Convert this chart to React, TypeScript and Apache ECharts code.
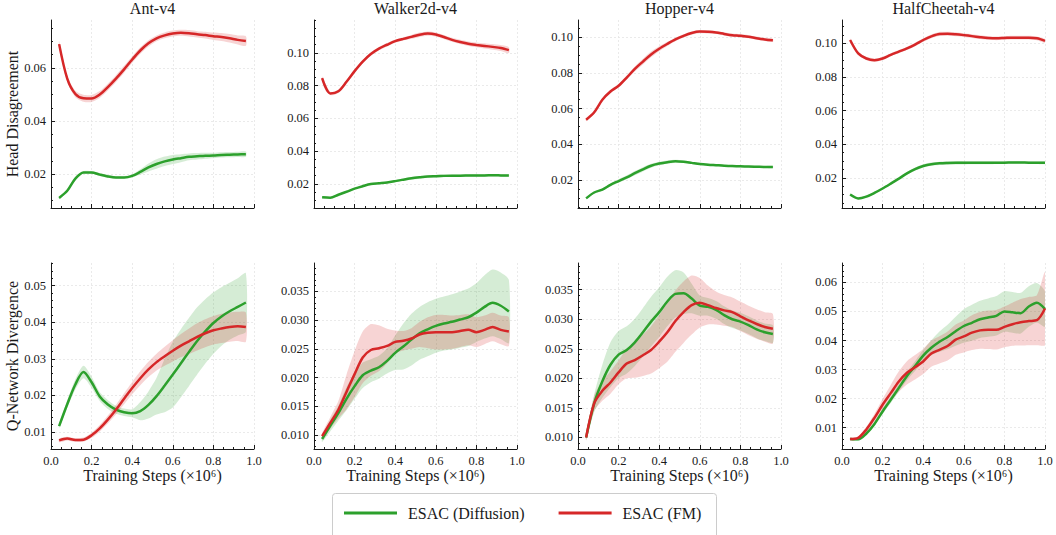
import { useEffect, useRef } from "react";
import * as echarts from "echarts";

const envNames = ["Ant-v4", "Walker2d-v4", "Hopper-v4", "HalfCheetah-v4"];
const rowNames = ["Head Disagreement", "Q-Network Divergence"];
const methodNames = ["ESAC (Diffusion)", "ESAC (FM)"];
const xTickLabels = ["0.0", "0.2", "0.4", "0.6", "0.8", "1.0"];

const steps = [0.04, 0.08, 0.12, 0.16, 0.2, 0.24, 0.28, 0.32, 0.36, 0.4, 0.44, 0.48, 0.52, 0.56, 0.6, 0.64, 0.68, 0.72, 0.76, 0.8, 0.84, 0.88, 0.92, 0.96];
const stepsHC = [0.04, 0.08, 0.12, 0.16, 0.2, 0.24, 0.28, 0.32, 0.36, 0.4, 0.44, 0.48, 0.52, 0.56, 0.6, 0.64, 0.68, 0.72, 0.76, 0.8, 0.84, 0.88, 0.92, 0.96, 1.0];

// ---- Head Disagreement ----
const antHeadDiff = [0.0110, 0.0137, 0.0183, 0.0206, 0.0206, 0.0198, 0.0191, 0.0187, 0.0187, 0.0193, 0.0208, 0.0225, 0.0238, 0.0248, 0.0255, 0.0260, 0.0265, 0.0267, 0.0269, 0.0270, 0.0272, 0.0273, 0.0274, 0.0275];
const antHeadDiffSd = [0.0005, 0.0005, 0.0005, 0.0005, 0.0005, 0.0005, 0.0005, 0.0005, 0.0005, 0.0006, 0.0010, 0.0015, 0.0018, 0.0018, 0.0017, 0.0015, 0.0013, 0.0012, 0.0011, 0.0010, 0.0010, 0.0010, 0.0010, 0.0010];
const antHeadFm = [0.0690, 0.0560, 0.0502, 0.0486, 0.0485, 0.0500, 0.0528, 0.0560, 0.0595, 0.0632, 0.0666, 0.0693, 0.0712, 0.0723, 0.0730, 0.0733, 0.0731, 0.0727, 0.0724, 0.0720, 0.0717, 0.0712, 0.0706, 0.0702];
const antHeadFmSd = [0.0012, 0.0012, 0.0012, 0.0013, 0.0013, 0.0013, 0.0013, 0.0013, 0.0013, 0.0012, 0.0012, 0.0012, 0.0011, 0.0011, 0.0011, 0.0011, 0.0012, 0.0012, 0.0013, 0.0014, 0.0015, 0.0016, 0.0017, 0.0018];

const walkerHeadDiff = [0.0118, 0.0115, 0.0134, 0.0152, 0.0171, 0.0186, 0.0199, 0.0204, 0.0209, 0.0217, 0.0226, 0.0234, 0.0240, 0.0245, 0.0247, 0.0249, 0.0250, 0.0250, 0.0251, 0.0252, 0.0252, 0.0253, 0.0252, 0.0251];
const walkerHeadDiffSd = [0.0005, 0.0005, 0.0005, 0.0005, 0.0005, 0.0005, 0.0005, 0.0005, 0.0005, 0.0006, 0.0007, 0.0008, 0.0008, 0.0008, 0.0008, 0.0008, 0.0008, 0.0008, 0.0008, 0.0008, 0.0008, 0.0008, 0.0008, 0.0008];
const walkerHeadFm = [0.0845, 0.0752, 0.0765, 0.0823, 0.0888, 0.0946, 0.0992, 0.1025, 0.1049, 0.1071, 0.1085, 0.1097, 0.1110, 0.1117, 0.1112, 0.1096, 0.1079, 0.1066, 0.1055, 0.1048, 0.1042, 0.1036, 0.1029, 0.1016];
const walkerHeadFmSd = [0.0010, 0.0010, 0.0010, 0.0010, 0.0010, 0.0010, 0.0010, 0.0010, 0.0010, 0.0010, 0.0010, 0.0012, 0.0013, 0.0013, 0.0012, 0.0012, 0.0012, 0.0013, 0.0014, 0.0015, 0.0016, 0.0017, 0.0018, 0.0018];

const hopperHeadDiff = [0.0097, 0.0130, 0.0146, 0.0173, 0.0194, 0.0215, 0.0238, 0.0260, 0.0280, 0.0292, 0.0300, 0.0305, 0.0302, 0.0296, 0.0290, 0.0286, 0.0283, 0.0280, 0.0278, 0.0277, 0.0275, 0.0274, 0.0273, 0.0273];
const hopperHeadDiffSd = [0.0005, 0.0005, 0.0006, 0.0008, 0.0010, 0.0011, 0.0012, 0.0012, 0.0011, 0.0010, 0.0009, 0.0008, 0.0007, 0.0006, 0.0006, 0.0006, 0.0006, 0.0006, 0.0006, 0.0006, 0.0006, 0.0006, 0.0006, 0.0006];
const hopperHeadFm = [0.0538, 0.0580, 0.0650, 0.0696, 0.0728, 0.0774, 0.0823, 0.0864, 0.0904, 0.0936, 0.0963, 0.0988, 0.1008, 0.1024, 0.1032, 0.1031, 0.1027, 0.1019, 0.1012, 0.1009, 0.1003, 0.0995, 0.0988, 0.0983];
const hopperHeadFmSd = [0.0008, 0.0008, 0.0009, 0.0010, 0.0010, 0.0012, 0.0014, 0.0016, 0.0016, 0.0014, 0.0012, 0.0010, 0.0009, 0.0009, 0.0009, 0.0009, 0.0009, 0.0009, 0.0009, 0.0009, 0.0009, 0.0009, 0.0009, 0.0009];

const cheetahHeadDiff = [0.0100, 0.0077, 0.0088, 0.0110, 0.0136, 0.0165, 0.0195, 0.0226, 0.0252, 0.0270, 0.0281, 0.0286, 0.0288, 0.0289, 0.0289, 0.0289, 0.0289, 0.0289, 0.0290, 0.0290, 0.0291, 0.0291, 0.0290, 0.0290, 0.0289];
const cheetahHeadDiffSd = [0.0006, 0.0006, 0.0006, 0.0006, 0.0006, 0.0006, 0.0007, 0.0008, 0.0009, 0.0010, 0.0010, 0.0010, 0.0010, 0.0010, 0.0010, 0.0009, 0.0009, 0.0009, 0.0008, 0.0008, 0.0008, 0.0008, 0.0008, 0.0008, 0.0008];
const cheetahHeadFm = [0.1020, 0.0940, 0.0910, 0.0900, 0.0910, 0.0932, 0.0951, 0.0970, 0.0993, 0.1020, 0.1042, 0.1056, 0.1057, 0.1054, 0.1049, 0.1043, 0.1037, 0.1032, 0.1030, 0.1032, 0.1034, 0.1034, 0.1034, 0.1030, 0.1015];
const cheetahHeadFmSd = [0.0009, 0.0010, 0.0010, 0.0010, 0.0009, 0.0009, 0.0009, 0.0009, 0.0010, 0.0010, 0.0011, 0.0012, 0.0012, 0.0012, 0.0011, 0.0011, 0.0011, 0.0011, 0.0011, 0.0011, 0.0011, 0.0011, 0.0011, 0.0011, 0.0011];

// ---- Q-Network Divergence ----
const antQDiff = [0.0116, 0.0176, 0.0230, 0.0264, 0.0236, 0.0197, 0.0175, 0.0161, 0.0154, 0.0151, 0.0157, 0.0174, 0.0198, 0.0227, 0.0257, 0.0288, 0.0319, 0.0349, 0.0375, 0.0398, 0.0416, 0.0430, 0.0442, 0.0454];
const antQDiffSd = [0.0006, 0.0010, 0.0014, 0.0017, 0.0015, 0.0012, 0.0012, 0.0011, 0.0010, 0.0011, 0.0025, 0.0037, 0.0050, 0.0073, 0.0090, 0.0093, 0.0093, 0.0092, 0.0088, 0.0084, 0.0080, 0.0078, 0.0078, 0.0080];
const antQFm = [0.0077, 0.0082, 0.0078, 0.0079, 0.0091, 0.0110, 0.0134, 0.0161, 0.0191, 0.0220, 0.0247, 0.0271, 0.0291, 0.0307, 0.0322, 0.0336, 0.0348, 0.0360, 0.0370, 0.0378, 0.0383, 0.0387, 0.0389, 0.0387];
const antQFmSd = [0.0005, 0.0005, 0.0005, 0.0006, 0.0007, 0.0009, 0.0011, 0.0013, 0.0015, 0.0017, 0.0019, 0.0021, 0.0023, 0.0026, 0.0029, 0.0032, 0.0035, 0.0037, 0.0038, 0.0039, 0.0040, 0.0040, 0.0040, 0.0040];

const walkerQDiff = [0.0093, 0.0116, 0.0138, 0.0163, 0.0185, 0.0204, 0.0212, 0.0218, 0.0229, 0.0243, 0.0254, 0.0266, 0.0277, 0.0284, 0.0290, 0.0294, 0.0297, 0.0301, 0.0305, 0.0313, 0.0323, 0.0330, 0.0325, 0.0315];
const walkerQDiffSd = [0.0005, 0.0010, 0.0013, 0.0020, 0.0022, 0.0022, 0.0020, 0.0020, 0.0022, 0.0030, 0.0040, 0.0045, 0.0046, 0.0047, 0.0047, 0.0047, 0.0048, 0.0049, 0.0050, 0.0051, 0.0055, 0.0058, 0.0058, 0.0055];
const walkerQFm = [0.0098, 0.0121, 0.0144, 0.0175, 0.0206, 0.0235, 0.0248, 0.0251, 0.0255, 0.0262, 0.0264, 0.0268, 0.0275, 0.0278, 0.0279, 0.0279, 0.0279, 0.0281, 0.0283, 0.0279, 0.0283, 0.0288, 0.0283, 0.0280];
const walkerQFmSd = [0.0005, 0.0010, 0.0015, 0.0030, 0.0040, 0.0045, 0.0045, 0.0040, 0.0030, 0.0020, 0.0017, 0.0018, 0.0022, 0.0027, 0.0030, 0.0030, 0.0029, 0.0028, 0.0027, 0.0026, 0.0025, 0.0025, 0.0025, 0.0025];

const hopperQDiff = [0.0100, 0.0158, 0.0195, 0.0223, 0.0240, 0.0248, 0.0261, 0.0278, 0.0296, 0.0312, 0.0330, 0.0343, 0.0344, 0.0335, 0.0323, 0.0321, 0.0316, 0.0307, 0.0300, 0.0296, 0.0290, 0.0283, 0.0278, 0.0275];
const hopperQDiffSd = [0.0005, 0.0015, 0.0028, 0.0038, 0.0040, 0.0040, 0.0040, 0.0041, 0.0042, 0.0042, 0.0042, 0.0040, 0.0035, 0.0025, 0.0017, 0.0015, 0.0015, 0.0015, 0.0015, 0.0015, 0.0015, 0.0015, 0.0015, 0.0015];
const hopperQFm = [0.0100, 0.0158, 0.0179, 0.0193, 0.0210, 0.0225, 0.0231, 0.0239, 0.0248, 0.0262, 0.0278, 0.0297, 0.0312, 0.0324, 0.0328, 0.0324, 0.0319, 0.0315, 0.0312, 0.0305, 0.0298, 0.0292, 0.0287, 0.0284];
const hopperQFmSd = [0.0005, 0.0013, 0.0017, 0.0019, 0.0020, 0.0025, 0.0030, 0.0035, 0.0040, 0.0045, 0.0050, 0.0052, 0.0052, 0.0050, 0.0042, 0.0033, 0.0028, 0.0026, 0.0025, 0.0025, 0.0025, 0.0025, 0.0025, 0.0025];

const cheetahQDiff = [0.0061, 0.0060, 0.0080, 0.0113, 0.0156, 0.0196, 0.0237, 0.0278, 0.0312, 0.0348, 0.0375, 0.0396, 0.0412, 0.0432, 0.0450, 0.0461, 0.0473, 0.0479, 0.0485, 0.0500, 0.0497, 0.0494, 0.0517, 0.0530, 0.0508];
const cheetahQDiffSd = [0.0004, 0.0004, 0.0005, 0.0007, 0.0009, 0.0011, 0.0013, 0.0015, 0.0017, 0.0020, 0.0026, 0.0035, 0.0042, 0.0050, 0.0058, 0.0062, 0.0064, 0.0066, 0.0068, 0.0070, 0.0070, 0.0070, 0.0070, 0.0068, 0.0060];
const cheetahQFm = [0.0061, 0.0065, 0.0094, 0.0134, 0.0179, 0.0219, 0.0259, 0.0289, 0.0308, 0.0328, 0.0355, 0.0368, 0.0381, 0.0403, 0.0414, 0.0427, 0.0435, 0.0437, 0.0437, 0.0447, 0.0456, 0.0463, 0.0467, 0.0470, 0.0510];
const cheetahQFmSd = [0.0004, 0.0005, 0.0009, 0.0014, 0.0020, 0.0028, 0.0035, 0.0040, 0.0042, 0.0043, 0.0045, 0.0047, 0.0050, 0.0052, 0.0055, 0.0060, 0.0063, 0.0066, 0.0068, 0.0070, 0.0074, 0.0080, 0.0083, 0.0086, 0.0125];

// axis ranges and ticks per panel
const yRanges = [
  [0.0072, 0.0781], [0.0053, 0.1200], [0.0043, 0.1097], [0.0020, 0.1139],
  [0.00535, 0.0562], [0.00756, 0.03994], [0.00804, 0.03952], [0.00267, 0.06668],
];
const yMajorTicks = [
  [0.02, 0.04, 0.06],
  [0.02, 0.04, 0.06, 0.08, 0.10],
  [0.02, 0.04, 0.06, 0.08, 0.10],
  [0.02, 0.04, 0.06, 0.08, 0.10],
  [0.01, 0.02, 0.03, 0.04, 0.05],
  [0.010, 0.015, 0.020, 0.025, 0.030, 0.035],
  [0.010, 0.015, 0.020, 0.025, 0.030, 0.035],
  [0.01, 0.02, 0.03, 0.04, 0.05, 0.06],
];
const yMinorSteps = [0.005, 0.005, 0.005, 0.005, 0.002, 0.001, 0.001, 0.002];
const yDecimals = [2, 2, 2, 2, 2, 3, 3, 2];

const panelData = [
  [steps, antHeadDiff, antHeadDiffSd, antHeadFm, antHeadFmSd],
  [steps, walkerHeadDiff, walkerHeadDiffSd, walkerHeadFm, walkerHeadFmSd],
  [steps, hopperHeadDiff, hopperHeadDiffSd, hopperHeadFm, hopperHeadFmSd],
  [stepsHC, cheetahHeadDiff, cheetahHeadDiffSd, cheetahHeadFm, cheetahHeadFmSd],
  [steps, antQDiff, antQDiffSd, antQFm, antQFmSd],
  [steps, walkerQDiff, walkerQDiffSd, walkerQFm, walkerQFmSd],
  [steps, hopperQDiff, hopperQDiffSd, hopperQFm, hopperQFmSd],
  [stepsHC, cheetahQDiff, cheetahQDiffSd, cheetahQFm, cheetahQFmSd],
];

const FONT = "'Liberation Serif', 'DejaVu Serif', serif";
const GREEN = "#2ca02c";
const RED = "#d62728";
const INK = "#1a1a1a";
const GRID_COLOR = "#e4e4e4";

const colLeft = [51, 314, 578, 842];
const plotW = 203;
const rowTop = [20, 263];
const rowH = [188, 186];

function minorValues(min: number, max: number, step: number): number[] {
  const out: number[] = [];
  const start = Math.ceil(min / step - 1e-9);
  const end = Math.floor(max / step + 1e-9);
  for (let k = start; k <= end; k++) out.push(+(k * step).toFixed(6));
  return out;
}

function buildOption() {
  const grid: any[] = [];
  const xAxis: any[] = [];
  const yAxis: any[] = [];
  const series: any[] = [];
  const title: any[] = [];

  for (let p = 0; p < 8; p++) {
    const row = p < 4 ? 0 : 1;
    const col = p % 4;
    grid.push({
      left: colLeft[col], top: rowTop[row], width: plotW, height: rowH[row],
      containLabel: false, outerBoundsMode: "none",
    });
    xAxis.push({
      type: "value", gridIndex: p, min: 0, max: 1, interval: 0.2,
      axisLine: { show: true, lineStyle: { color: INK, width: 1 } },
      axisTick: { show: true, inside: true, length: 4, lineStyle: { color: INK } },
      minorTick: { show: true, splitNumber: 4, length: 2, lineStyle: { color: INK } },
      axisLabel: {
        show: row === 1, margin: 5, fontFamily: FONT, fontSize: 12.5, color: INK,
        formatter: (v: number) => xTickLabels[Math.round(v * 5)] ?? v.toFixed(1),
      },
      splitLine: { show: true, lineStyle: { color: GRID_COLOR, type: [2, 2], width: 0.8 } },
      name: row === 1 ? "Training Steps (×10⁶)" : "",
      nameLocation: "middle", nameGap: 18, nameMoveOverlap: false,
      nameTextStyle: { fontFamily: FONT, fontSize: 16, color: INK, verticalAlign: "top" },
    });
    const [ymin, ymax] = yRanges[p];
    const dec = yDecimals[p];
    yAxis.push({
      type: "value", gridIndex: p, position: "left", min: ymin, max: ymax,
      axisLine: { show: true, lineStyle: { color: INK, width: 1 } },
      axisTick: { show: true, inside: true, length: 4, customValues: yMajorTicks[p], lineStyle: { color: INK } },
      axisLabel: {
        show: true, customValues: yMajorTicks[p], margin: 5, fontFamily: FONT, fontSize: 12.5, color: INK,
        formatter: (v: number) => v.toFixed(dec),
      },
      splitLine: { show: true, lineStyle: { color: GRID_COLOR, type: [2, 2], width: 0.8 } },
      name: col === 0 ? rowNames[row] : "",
      nameLocation: "middle", nameRotate: 90, nameGap: 31, nameMoveOverlap: false,
      nameTextStyle: { fontFamily: FONT, fontSize: 16, color: INK },
    });
    title.push({
      show: row === 0, text: envNames[col], left: colLeft[col] + plotW / 2, top: 0,
      textAlign: "center", padding: 0,
      textStyle: { fontFamily: FONT, fontSize: 16, fontWeight: "normal", color: INK },
    });
  }
  // minor tick axes for y
  for (let p = 0; p < 8; p++) {
    const [ymin, ymax] = yRanges[p];
    yAxis.push({
      type: "value", gridIndex: p, position: "left", offset: 0, min: ymin, max: ymax,
      axisLine: { show: false },
      axisTick: { show: true, inside: true, length: 2, customValues: minorValues(ymin, ymax, yMinorSteps[p]), lineStyle: { color: INK } },
      axisLabel: { show: false },
      splitLine: { show: false },
    });
  }

  for (let p = 0; p < 8; p++) {
    const [xs, dMean, dSd, fMean, fSd] = panelData[p];
    const pairs: [number[], number[], string, string][] = [
      [dMean, dSd, GREEN, methodNames[0]],
      [fMean, fSd, RED, methodNames[1]],
    ];
    pairs.forEach(([mean, sd, color], k) => {
      series.push({
        type: "custom", name: `band-${p}-${k}`, xAxisIndex: p, yAxisIndex: p,
        silent: true, z: 1 + k * 0.1, clip: true,
        data: xs.map((xv, j) => [xv, mean[j] - sd[j], mean[j] + sd[j]]),
        encode: { x: 0, y: [1, 2] },
        renderItem: (params: any, api: any) => {
          if (params.dataIndex !== 0) return null;
          const up = xs.map((xv, j) => api.coord([xv, mean[j] + sd[j]]));
          const lo = xs.map((xv, j) => api.coord([xv, mean[j] - sd[j]])).reverse();
          return {
            type: "polygon",
            shape: { points: up.concat(lo), smooth: 0.25 },
            style: { fill: color, opacity: 0.2 },
          };
        },
      });
    });
    pairs.forEach(([mean, , color, name]) => {
      series.push({
        type: "line", name, xAxisIndex: p, yAxisIndex: p, z: 3,
        data: xs.map((xv, j) => [xv, mean[j]]),
        smooth: 0.3, symbol: "none", showSymbol: false,
        lineStyle: { color, width: 2.5 },
        itemStyle: { color },
      });
    });
  }

  return {
    animation: false,
    backgroundColor: "#ffffff",
    title,
    grid,
    xAxis,
    yAxis,
    series,
    legend: {
      data: methodNames,
      left: 344, top: 505, padding: 0,
      icon: "rect", itemWidth: 53, itemHeight: 3, itemGap: 34,
      textStyle: { fontFamily: FONT, fontSize: 16, color: INK, padding: [0, 0, 0, 6] },
    },
    graphic: [
      {
        type: "rect", left: 332, top: 493, z: -10,
        shape: { width: 384, height: 60, r: 3 },
        style: { fill: "#ffffff", stroke: "#cccccc", lineWidth: 1 },
      },
    ],
  };
}

export default function App() {
  const ref = useRef<HTMLDivElement>(null);
  useEffect(() => {
    if (!ref.current) return;
    const chart = echarts.init(ref.current, null, { renderer: "svg" });
    chart.setOption(buildOption() as any);
    return () => chart.dispose();
  }, []);
  return (
    <div
      ref={ref}
      style={{ position: "absolute", left: 0, top: 0, width: 1056, height: 535, background: "#fff" }}
    />
  );
}
